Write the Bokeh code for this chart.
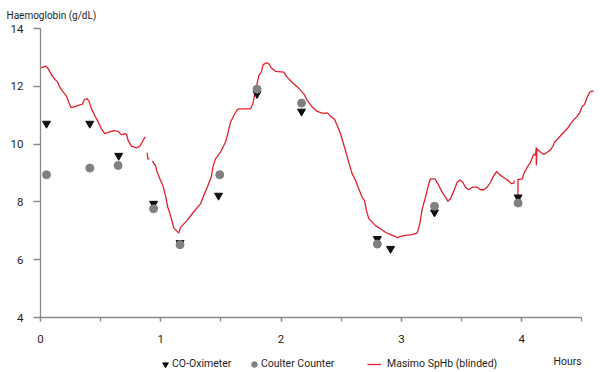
from bokeh.plotting import figure
from bokeh.models import Range1d, Legend, LegendItem, Label, FixedTicker
from bokeh.core.properties import value
from bokeh.embed import file_html
from bokeh.resources import INLINE

FONT = "Roboto"
TEXT_COLOR = "#1e1e1e"
AXIS_COLOR = "#8a8a8a"

# CO-Oximeter samples
co_hours = [0.05, 0.41, 0.65, 0.94, 1.16, 1.48, 1.80, 2.17, 2.80, 2.91, 3.275, 3.97]
co_hb = [10.71, 10.71, 9.60, 7.94, 6.58, 8.22, 11.74, 11.13, 6.72, 6.38, 7.64, 8.16]

# Coulter Counter samples
cc_hours = [0.05, 0.41, 0.645, 0.94, 1.16, 1.49, 1.80, 2.17, 2.80, 3.275, 3.97]
cc_hb = [8.94, 9.17, 9.26, 7.76, 6.52, 8.94, 11.90, 11.42, 6.54, 7.85, 7.96]

# Masimo SpHb (blinded) trace, in pieces separated by gaps
sphb1_hours = [0.000, 0.042, 0.064, 0.091, 0.119, 0.139, 0.160, 0.189, 0.216, 0.235,
               0.255, 0.285, 0.327, 0.349, 0.363, 0.388, 0.405, 0.424, 0.451, 0.480,
               0.507, 0.534, 0.563, 0.609, 0.646, 0.673, 0.701, 0.715, 0.729, 0.756,
               0.798, 0.825, 0.848, 0.870]
sphb1_hb = [12.63, 12.70, 12.61, 12.40, 12.24, 12.17, 11.97, 11.80, 11.66, 11.45,
            11.26, 11.30, 11.36, 11.38, 11.54, 11.57, 11.47, 11.22, 10.99, 10.76,
            10.53, 10.36, 10.41, 10.47, 10.44, 10.32, 10.36, 10.34, 10.12, 9.93,
            9.87, 9.92, 10.09, 10.25]

sphb2_hours = [0.887, 0.892, 0.906]
sphb2_hb = [9.70, 9.49, 9.49]

sphb3_hours = [0.929, 0.956, 0.970, 0.992, 1.017, 1.039, 1.058, 1.081, 1.108, 1.136,
               1.150, 1.164, 1.191, 1.219, 1.261, 1.303, 1.330, 1.357, 1.386, 1.419,
               1.436, 1.455, 1.496, 1.538, 1.557, 1.579, 1.607, 1.635, 1.648, 1.746,
               1.765, 1.787, 1.815, 1.835, 1.851, 1.879, 1.898, 1.918, 1.953, 2.022,
               2.051, 2.092, 2.147, 2.189, 2.217, 2.259, 2.300, 2.342, 2.388, 2.411,
               2.444, 2.466, 2.494, 2.535, 2.563, 2.591, 2.619, 2.646, 2.674, 2.693,
               2.710, 2.729, 2.757, 2.785, 2.826, 2.868, 2.909, 2.951, 2.965, 2.987,
               3.034, 3.090, 3.131, 3.153, 3.173, 3.200, 3.228, 3.242, 3.278, 3.303,
               3.339, 3.367, 3.386, 3.408, 3.436, 3.464, 3.485, 3.510, 3.533, 3.560,
               3.588, 3.630, 3.658, 3.685, 3.713, 3.741, 3.768, 3.791, 3.810, 3.838,
               3.865, 3.893, 3.915, 3.934, 3.940]
sphb3_hb = [9.41, 9.26, 9.03, 8.80, 8.57, 8.22, 7.82, 7.53, 7.10, 6.98,
            6.92, 7.12, 7.24, 7.36, 7.59, 7.80, 7.93, 8.22, 8.51, 8.85,
            9.26, 9.49, 9.72, 10.07, 10.36, 10.75, 10.99, 11.19, 11.22, 11.22,
            11.39, 11.85, 12.37, 12.49, 12.75, 12.81, 12.78, 12.64, 12.52, 12.49,
            12.31, 12.14, 11.93, 11.74, 11.51, 11.28, 11.13, 11.07, 11.07, 10.96,
            10.86, 10.64, 10.36, 9.78, 9.37, 8.97, 8.74, 8.45, 8.16, 8.05,
            7.70, 7.42, 7.30, 7.18, 7.07, 6.95, 6.87, 6.80, 6.76, 6.80,
            6.84, 6.87, 6.92, 7.24, 7.76, 8.16, 8.63, 8.80, 8.80, 8.63,
            8.34, 8.16, 8.02, 8.11, 8.39, 8.68, 8.76, 8.68, 8.51, 8.42,
            8.51, 8.51, 8.42, 8.42, 8.51, 8.68, 8.91, 9.05, 8.97, 8.88,
            8.80, 8.72, 8.63, 8.65, 8.74]

sphb4_hours = [3.969, 3.969, 3.984, 4.004, 4.023, 4.046, 4.073, 4.101, 4.115, 4.121,
               4.122, 4.126, 4.156, 4.184, 4.212, 4.239, 4.262, 4.273, 4.308, 4.350,
               4.378, 4.406, 4.433, 4.461, 4.483, 4.503, 4.522, 4.544, 4.566, 4.586,
               4.599]
sphb4_hb = [8.15, 8.78, 8.78, 8.80, 9.03, 9.20, 9.37, 9.66, 9.61, 9.89,
            9.26, 9.84, 9.72, 9.64, 9.72, 9.80, 9.95, 10.07, 10.22, 10.41,
            10.53, 10.70, 10.84, 10.96, 11.10, 11.30, 11.37, 11.62, 11.80, 11.83,
            11.83]

x_major_ticks = [0, 1, 2, 3, 4]
x_minor_ticks = [0, 0.5, 1, 1.5, 2, 2.5, 3, 3.5, 4, 4.5]
y_ticks = [4, 6, 8, 10, 12, 14]

nan = float("nan")
sphb_hours = sphb1_hours + [nan] + sphb2_hours + [nan] + sphb3_hours + [nan] + sphb4_hours
sphb_hb = sphb1_hb + [nan] + sphb2_hb + [nan] + sphb3_hb + [nan] + sphb4_hb

# frame fills the canvas; axes are pinned at x=0 / y=4
p = figure(width=600, height=372, output_backend="svg", toolbar_location=None,
           x_range=Range1d(-0.3325, 4.655), y_range=Range1d(2.097, 14.969),
           min_border=0)
p.outline_line_color = None
p.xgrid.visible = False
p.ygrid.visible = False
p.background_fill_color = "white"
p.border_fill_color = "white"

line_r = p.line(sphb_hours, sphb_hb, line_color="#e3202a", line_width=1.3)
tri_r = p.scatter(co_hours, co_hb, marker="inverted_triangle", size=8,
                  fill_color="#111111", line_color="#111111")
circ_r = p.scatter(cc_hours, cc_hb, marker="circle", size=8,
                   fill_color="#808080", line_color="#808080")

# x axis
xa = p.xaxis[0]
xa.fixed_location = 4
xa.ticker = FixedTicker(ticks=x_major_ticks, minor_ticks=x_minor_ticks)
xa.bounds = (0, 4.5)
xa.axis_line_color = AXIS_COLOR
xa.axis_line_width = 1.3
xa.major_tick_line_color = AXIS_COLOR
xa.minor_tick_line_color = AXIS_COLOR
xa.major_tick_line_width = 1.3
xa.minor_tick_line_width = 1.3
xa.major_tick_in = 0
xa.major_tick_out = 4
xa.minor_tick_in = 0
xa.minor_tick_out = 4
xa.major_label_standoff = 13
xa.major_label_text_font = FONT
xa.major_label_text_font_size = "11.5px"
xa.major_label_text_color = TEXT_COLOR

# y axis
ya = p.yaxis[0]
ya.fixed_location = 0
ya.ticker = FixedTicker(ticks=y_ticks)
ya.bounds = (4, 14)
ya.axis_line_color = AXIS_COLOR
ya.axis_line_width = 1.3
ya.major_tick_line_color = AXIS_COLOR
ya.major_tick_line_width = 1.3
ya.major_tick_in = 0
ya.major_tick_out = 7
ya.minor_tick_out = 0
ya.minor_tick_in = 0
ya.major_label_standoff = 10
ya.major_label_text_font = FONT
ya.major_label_text_font_size = "11.5px"
ya.major_label_text_color = TEXT_COLOR

p.add_layout(Label(x=6, y=357, x_units="screen", y_units="screen",
                   text="Haemoglobin (g/dL)", text_font=FONT, text_font_size="10px",
                   text_color=TEXT_COLOR, text_baseline="alphabetic"))
p.add_layout(Label(x=553, y=11.5, x_units="screen", y_units="screen",
                   text="Hours", text_font=FONT, text_font_size="10.5px",
                   text_color=TEXT_COLOR, text_baseline="alphabetic"))

def make_legend(label, renderer, vx, standoff):
    lg = Legend(items=[LegendItem(label=label, renderers=[renderer])],
                location=(vx, 1.5), orientation="horizontal",
                glyph_width=14, glyph_height=14, label_height=14,
                label_standoff=standoff, padding=0, margin=0, spacing=0,
                border_line_alpha=0, background_fill_alpha=0,
                label_text_font=FONT, label_text_font_size="10.5px",
                label_text_color=TEXT_COLOR)
    p.add_layout(lg)

make_legend("CO-Oximeter", tri_r, 158, 0)
make_legend("Coulter Counter", circ_r, 247, 0)
make_legend("Masimo SpHb (blinded)", line_r, 367, 6)

open("out.html", "w").write(file_html(p, INLINE))
